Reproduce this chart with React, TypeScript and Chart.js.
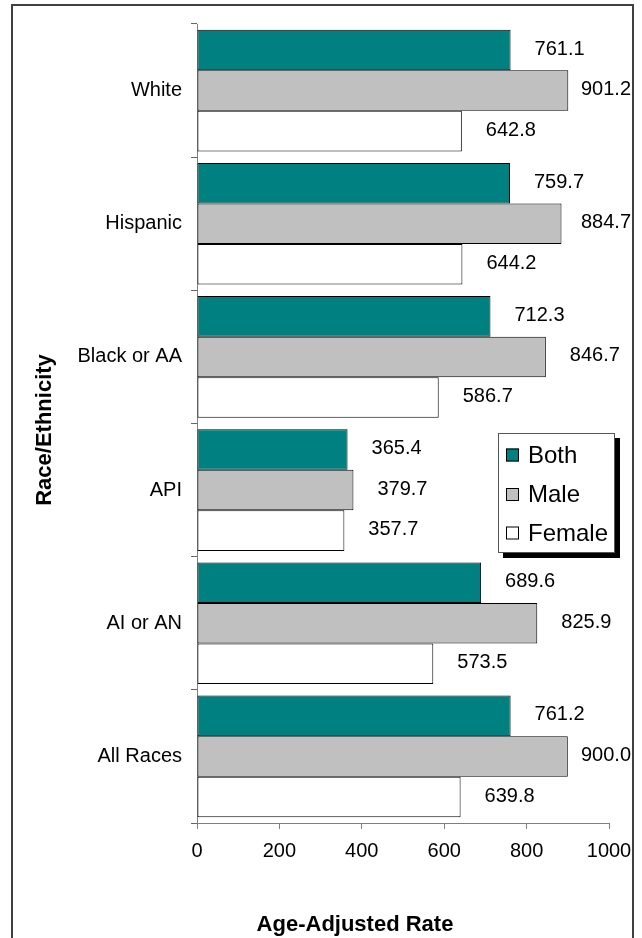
import React, { useEffect, useRef } from "react";
import { Chart, registerables } from "chart.js";

Chart.register(...registerables);

const categories = ["White", "Hispanic", "Black or AA", "API", "AI or AN", "All Races"];
const bothValues = [761.1, 759.7, 712.3, 365.4, 689.6, 761.2];
const maleValues = [901.2, 884.7, 846.7, 379.7, 825.9, 900.0];
const femaleValues = [642.8, 644.2, 586.7, 357.7, 573.5, 639.8];
const seriesNames = ["Both", "Male", "Female"];
const xTicks = [0, 200, 400, 600, 800, 1000];
const xTitle = "Age-Adjusted Rate";
const yTitle = "Race/Ethnicity";

const FONT = '"Liberation Sans", Arial, sans-serif';
const W = 619;
const H = 932;

const labelsPlugin = {
  id: "valueLabels",
  afterDatasetsDraw(chart: any) {
    const ctx = chart.ctx;
    ctx.save();
    ctx.font = `20px ${FONT}`;
    ctx.fillStyle = "#000";
    ctx.textBaseline = "middle";
    ctx.textAlign = "left";
    chart.data.datasets.forEach((ds: any, di: number) => {
      const meta = chart.getDatasetMeta(di);
      meta.data.forEach((el: any, i: number) => {
        const txt = Number(ds.data[i]).toFixed(1);
        const w = ctx.measureText(txt).width;
        let x = el.x + 24;
        if (x + w > 618) x = 618 - w;
        ctx.fillText(txt, x, el.y - 1);
      });
    });
    ctx.restore();
  },
};

const decorPlugin = {
  id: "decor",
  afterDraw(chart: any) {
    const ctx = chart.ctx;
    ctx.save();
    // axis titles
    ctx.fillStyle = "#000";
    ctx.font = `bold 22px ${FONT}`;
    ctx.textAlign = "center";
    ctx.textBaseline = "middle";
    ctx.fillText(xTitle, 342, 919);
    ctx.save();
    ctx.translate(32, 424);
    ctx.rotate(-Math.PI / 2);
    ctx.fillText(yTitle, 0, 0);
    ctx.restore();

    // legend
    const bx = 485, by = 427, bw = 117, bh = 120;
    ctx.fillStyle = "#000";
    ctx.fillRect(bx + 5, by + 5, bw, bh);
    ctx.fillStyle = "#fff";
    ctx.fillRect(bx, by, bw, bh);
    ctx.strokeStyle = "#555";
    ctx.lineWidth = 1;
    ctx.strokeRect(bx + 0.5, by + 0.5, bw - 1, bh - 1);
    const rows = [449, 488.5, 527];
    ctx.font = `24px ${FONT}`;
    ctx.textAlign = "left";
    ctx.textBaseline = "middle";
    chart.data.datasets.forEach((ds: any, i: number) => {
      const cy = rows[i];
      ctx.fillStyle = ds.backgroundColor;
      ctx.fillRect(493, cy - 6.5, 13, 13);
      ctx.strokeStyle = "#000";
      ctx.strokeRect(493.5, cy - 6, 12, 12);
      ctx.fillStyle = "#000";
      ctx.fillText(ds.label, 515, cy + 1);
    });
    ctx.restore();
  },
};

const zeroPad = (scale: any) => {
  scale.paddingLeft = 0;
  scale.paddingRight = 0;
  scale.paddingTop = 0;
  scale.paddingBottom = 0;
};

export default function App() {
  const ref = useRef<HTMLCanvasElement | null>(null);
  useEffect(() => {
    if (!ref.current) return;
    const colors = ["#008080", "#C0C0C0", "#FFFFFF"];
    const values = [bothValues, maleValues, femaleValues];
    const chart = new Chart(ref.current, {
      type: "bar",
      data: {
        labels: categories,
        datasets: seriesNames.map((n, i) => ({
          label: n,
          data: values[i],
          backgroundColor: colors[i],
          borderColor: "#000",
          borderWidth: 1,
          borderSkipped: false,
          categoryPercentage: 0.914,
          barPercentage: 1,
        })),
      },
      options: {
        indexAxis: "y",
        responsive: false,
        animation: false,
        layout: { padding: { left: 0, top: 18, right: 23, bottom: 0 } },
        plugins: {
          legend: { display: false },
          tooltip: { enabled: false },
        },
        scales: {
          x: {
            min: 0,
            max: 1000,
            afterBuildTicks: (scale: any) => {
              scale.ticks = xTicks.map((v) => ({ value: v }));
            },
            afterFit: (scale: any) => {
              scale.height = 115;
              zeroPad(scale);
            },
            grid: {
              drawOnChartArea: false,
              drawTicks: true,
              tickLength: 6,
              color: "#808080",
            },
            border: { display: true, color: "#808080", width: 1 },
            ticks: {
              color: "#000",
              font: { family: FONT, size: 20 },
              padding: 10,
              maxRotation: 0,
              callback: (v: any) => String(v),
            },
          },
          y: {
            afterFit: (scale: any) => {
              scale.width = 184;
              zeroPad(scale);
            },
            grid: {
              drawOnChartArea: false,
              drawTicks: true,
              tickLength: 6,
              color: "#666666",
              offset: true,
            },
            border: { display: true, color: "#808080", width: 1 },
            ticks: {
              color: "#000",
              font: { family: FONT, size: 20 },
              padding: 9,
            },
          },
        },
      },
      plugins: [labelsPlugin, decorPlugin],
    } as any);
    return () => chart.destroy();
  }, []);

  return (
    <div
      style={{
        position: "absolute",
        left: 11,
        top: 4,
        width: W,
        height: H,
        border: "2px solid #404040",
        background: "#fff",
      }}
    >
      <canvas ref={ref} width={W} height={H} style={{ display: "block", width: W, height: H }} />
    </div>
  );
}
